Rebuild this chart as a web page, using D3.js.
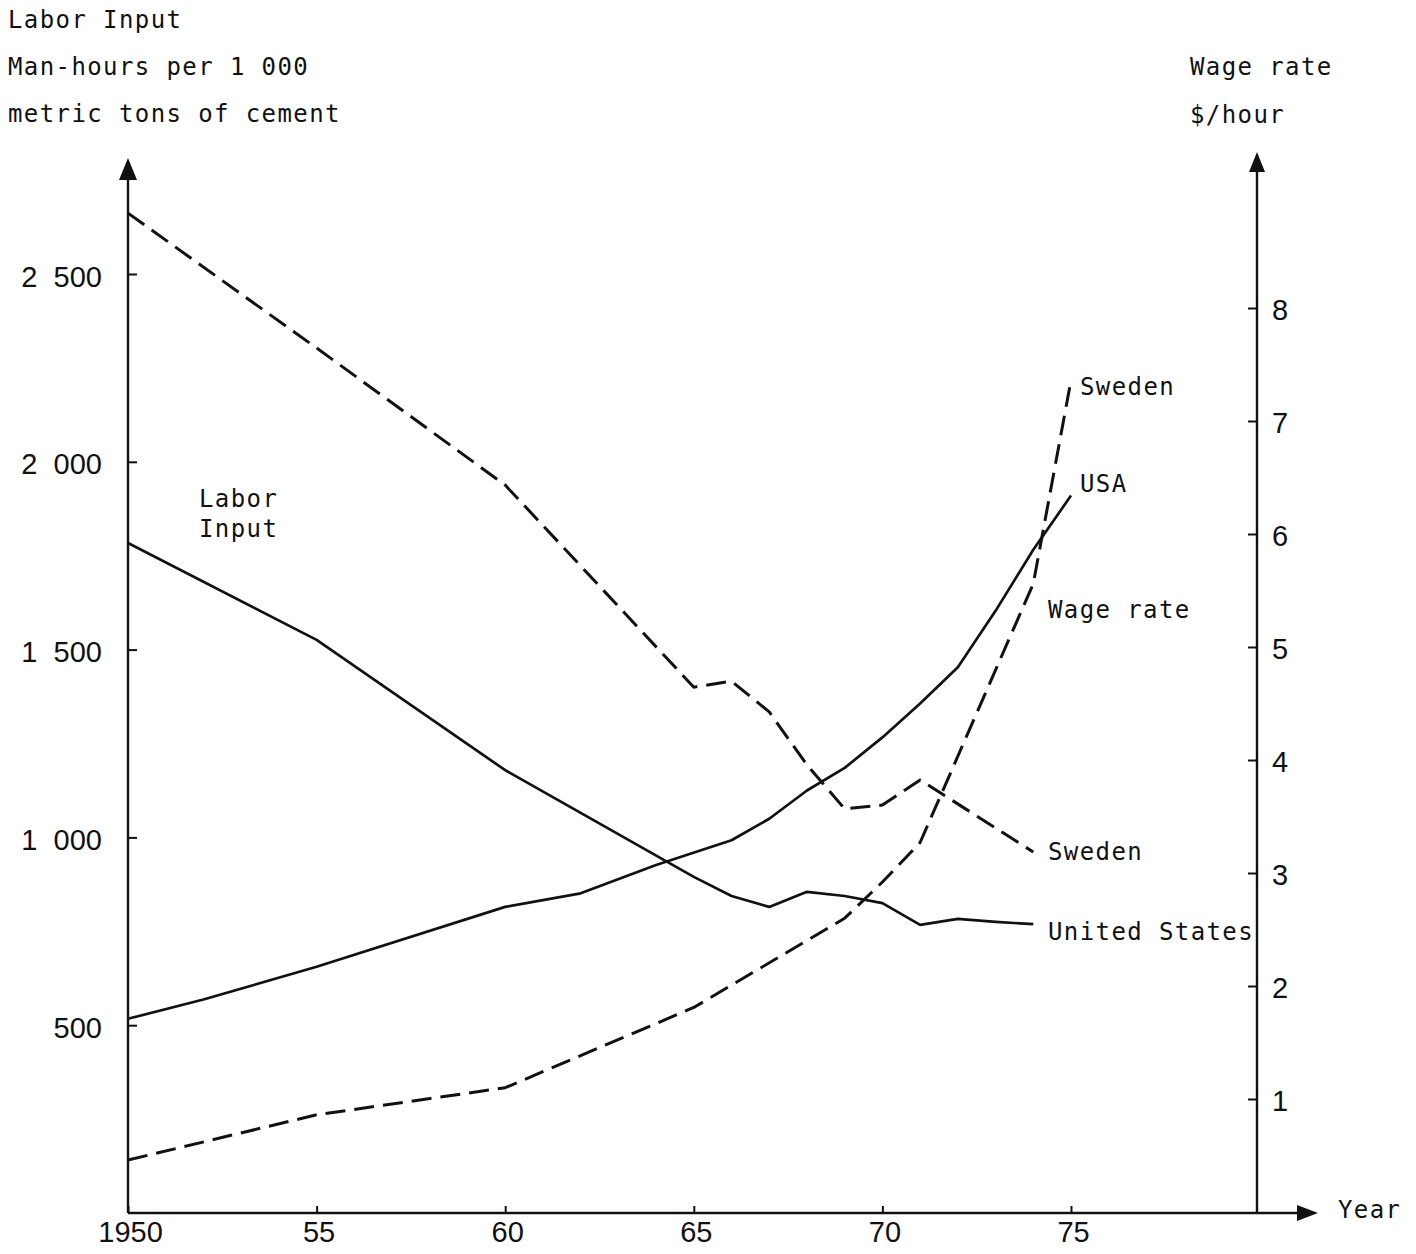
<!DOCTYPE html>
<html>
<head>
<meta charset="utf-8">
<script src="https://cdn.jsdelivr.net/npm/d3@7"></script>
<style>
  body { margin: 0; background: #fff; }
  .mono { font-family: "DejaVu Sans Mono", monospace; font-size: 24px; letter-spacing: 1.4px; fill: #111; }
  .tick text { font-family: "Liberation Sans", Arial, sans-serif; font-size: 29px; fill: #111; }
</style>
</head>
<body>
<svg width="1416" height="1254"></svg>
<script>
// labor input, man-hours per 1 000 metric tons (left axis)
var laborSwedenYears = [1950, 1955, 1960, 1965, 1966, 1967, 1968, 1969, 1970, 1971, 1974];
var laborSweden = [2662, 2303, 1938, 1400, 1416, 1334, 1193, 1076, 1086, 1153, 961];
var laborUSYears = [1950, 1955, 1960, 1965, 1966, 1967, 1968, 1969, 1970, 1971, 1972, 1973, 1974];
var laborUS = [1784, 1526, 1179, 895, 844, 815, 855, 844, 825, 767, 783, 775, 769];

// wage rate, $/hour (right axis)
var wageUSYears = [1950, 1952, 1955, 1960, 1962, 1964, 1966, 1967, 1968, 1969, 1970, 1971, 1972, 1973, 1974, 1975];
var wageUS = [1.71, 1.88, 2.17, 2.70, 2.82, 3.07, 3.29, 3.48, 3.73, 3.93, 4.20, 4.50, 4.82, 5.32, 5.86, 6.34];
var wageSwedenYears = [1950, 1955, 1960, 1965, 1969, 1970, 1971, 1974, 1975];
var wageSweden = [0.46, 0.86, 1.10, 1.81, 2.60, 2.92, 3.27, 5.56, 7.36];

var yearTicks = [1950, 1955, 1960, 1965, 1970, 1975];
var yearLabels = ["1950", "55", "60", "65", "70", "75"];
var laborTicks = [500, 1000, 1500, 2000, 2500];
var laborLabels = ["500", "1\u2007000", "1\u2007500", "2\u2007000", "2\u2007500"];
var wageTicks = [1, 2, 3, 4, 5, 6, 7, 8];

var svg = d3.select("svg"),
  width = +svg.attr("width"),
  height = +svg.attr("height");

var x0 = 128, x1 = 1257, yBase = 1213;

var xScale = d3.scaleLinear().domain([1950, 1975]).range([x0, 1071]);
var yLeft = d3.scaleLinear().domain([0, 2500]).range([yBase, 274]);
var yRight = d3.scaleLinear().domain([0, 8]).range([1212, 308]);

// axes (ticks only, lines drawn by hand with arrows)
var xAxis = d3.axisBottom(xScale)
  .tickValues(yearTicks)
  .tickFormat(function (d, i) { return yearLabels[i]; })
  .tickSizeInner(-7).tickSizeOuter(0).tickPadding(8);
var leftAxis = d3.axisLeft(yLeft)
  .tickValues(laborTicks)
  .tickFormat(function (d, i) { return laborLabels[i]; })
  .tickSizeInner(-9).tickSizeOuter(0).tickPadding(26);
var rightAxis = d3.axisRight(yRight)
  .tickValues(wageTicks)
  .tickSizeInner(-9).tickSizeOuter(0).tickPadding(15);

function styleAxis(g) {
  g.select(".domain").remove();
  g.selectAll(".tick line").attr("stroke", "#111").attr("stroke-width", 2);
}

svg.append("g").attr("transform", "translate(0," + yBase + ")").call(xAxis).call(styleAxis)
  .selectAll(".tick text").attr("dx", 2);
svg.append("g").attr("transform", "translate(" + x0 + ",0)").call(leftAxis).call(styleAxis)
  .selectAll(".tick text").attr("dy", "0.42em");
svg.append("g").attr("transform", "translate(" + x1 + ",0)").call(rightAxis).call(styleAxis)
  .selectAll(".tick text").attr("dy", "0.38em");

// axis lines
var axisLines = [
  [x0, yBase, x0, 175],
  [x1, yBase, x1, 168],
  [x0, yBase, 1300, yBase]
];
svg.selectAll("line.axis")
  .data(axisLines)
  .enter()
  .append("line")
  .attr("class", "axis")
  .attr("x1", function (d) { return d[0]; })
  .attr("y1", function (d) { return d[1]; })
  .attr("x2", function (d) { return d[2]; })
  .attr("y2", function (d) { return d[3]; })
  .attr("stroke", "#111")
  .attr("stroke-width", 2.4);

// arrow heads
svg.append("path").attr("d", "M" + x0 + ",158 L" + (x0 - 9) + ",180 L" + (x0 + 9) + ",180 Z").attr("fill", "#111");
svg.append("path").attr("d", "M" + x1 + ",152 L" + (x1 - 8) + ",172 L" + (x1 + 8) + ",172 Z").attr("fill", "#111");
svg.append("path").attr("d", "M1318," + yBase + " L1297," + (yBase - 8) + " L1297," + (yBase + 8) + " Z").attr("fill", "#111");

// series
function series(years, vals, yScale, dashed) {
  var pts = years.map(function (yr, i) { return [yr, vals[i]]; });
  var line = d3.line()
    .x(function (d) { return xScale(d[0]); })
    .y(function (d) { return yScale(d[1]); });
  svg.append("path")
    .datum(pts)
    .attr("d", line)
    .attr("fill", "none")
    .attr("stroke", "#111")
    .attr("stroke-width", dashed ? 3 : 2.7)
    .attr("stroke-linejoin", "round")
    .attr("stroke-dasharray", dashed ? "20,9" : null);
}
series(laborSwedenYears, laborSweden, yLeft, true);
series(laborUSYears, laborUS, yLeft, false);
series(wageUSYears, wageUS, yRight, false);
series(wageSwedenYears, wageSweden, yRight, true);

// texts
var texts = [
  ["Labor Input", 8, 28],
  ["Man-hours per 1 000", 8, 75],
  ["metric tons of cement", 8, 122],
  ["Wage rate", 1190, 75],
  ["$/hour", 1190, 123],
  ["Labor", 199, 507],
  ["Input", 199, 537],
  ["Sweden", 1080, 395],
  ["USA", 1080, 492],
  ["Wage rate", 1048, 618],
  ["Sweden", 1048, 860],
  ["United States", 1048, 940],
  ["Year", 1338, 1218]
];
svg.selectAll("text.lbl")
  .data(texts)
  .enter()
  .append("text")
  .attr("class", "lbl mono")
  .attr("x", function (d) { return d[1]; })
  .attr("y", function (d) { return d[2]; })
  .text(function (d) { return d[0]; });
</script>
</body>
</html>
